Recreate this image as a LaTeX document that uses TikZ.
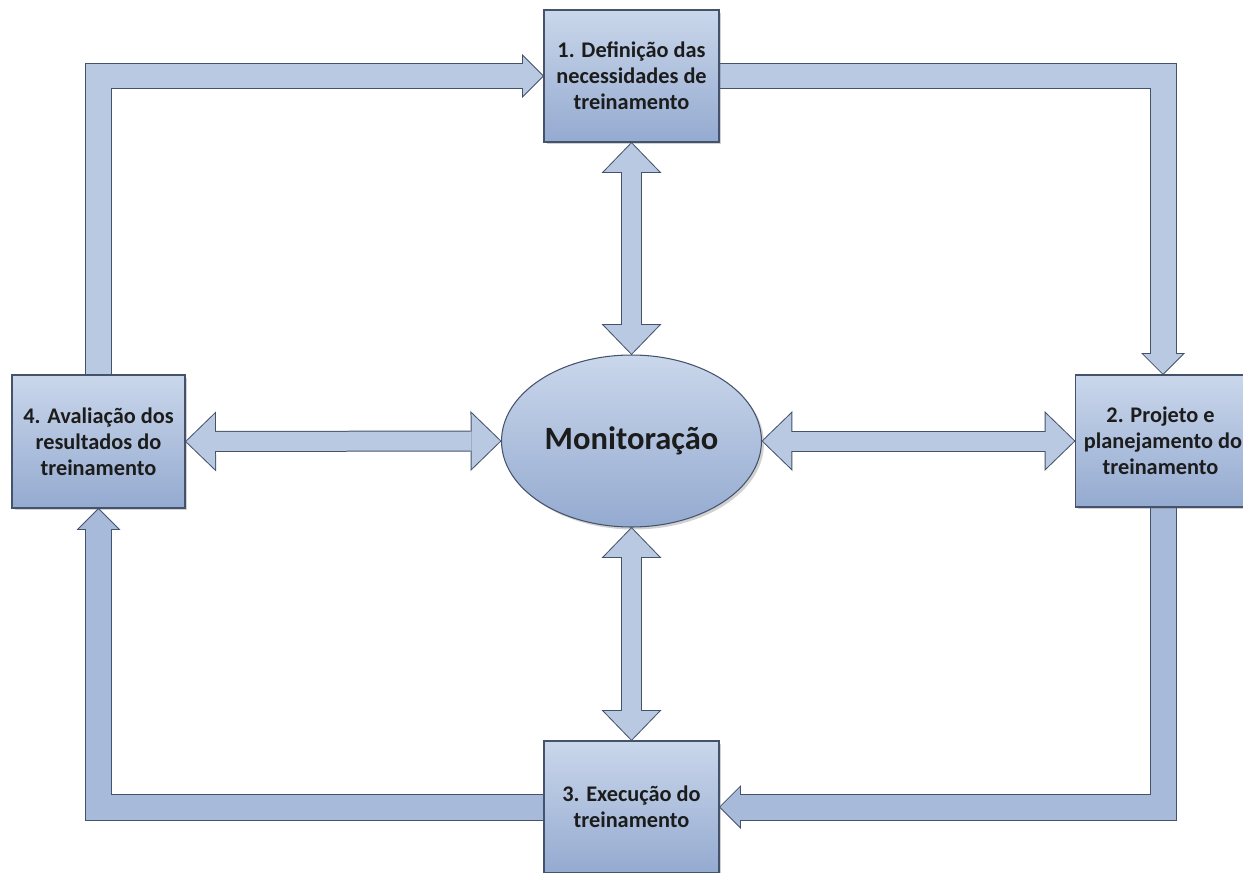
\documentclass[tikz,border=0pt]{standalone}
\usepackage{fontspec}
\setmainfont{Carlito}
\usetikzlibrary{arrows.meta,shapes.geometric,shadows}

\definecolor{boxtop}{HTML}{CAD7EB}
\definecolor{boxbot}{HTML}{94AAD0}
\definecolor{edgec}{HTML}{44536B}
\definecolor{flowc}{HTML}{B9C9E2}
\definecolor{flowd}{HTML}{A7BADA}
\definecolor{txtc}{HTML}{1C1C1C}

\pgfdeclarelayer{background}
\pgfsetlayers{background,main}

\begin{document}
\begin{tikzpicture}[x=0.02cm, y=-0.02cm,
    stage/.style={rectangle, draw=edgec, line width=0.6pt, top color=boxtop, bottom color=boxbot,
      minimum width=3.5cm, minimum height=2.64cm, inner sep=0pt, outer sep=0pt, align=center,
      text=txtc, font=\fontsize{12.7}{14.7}\selectfont\bfseries,
      drop shadow={shadow xshift=0.05cm, shadow yshift=-0.05cm, opacity=0.3, fill=black!60}},
    hub/.style={ellipse, draw=edgec, line width=0.6pt, top color=boxtop, bottom color=boxbot,
      minimum width=5.2cm, minimum height=3.44cm, inner sep=0pt, outer sep=0pt,
      text=txtc, font=\fontsize{18.5}{22}\selectfont\bfseries,
      drop shadow={shadow xshift=0.05cm, shadow yshift=-0.05cm, opacity=0.3, fill=black!60}},
    loop/.style={line width=0.54cm, draw=edgec,
      -{Triangle[length=0.44cm, width=0.88cm, line width=0pt]},
      postaction={draw=#1, line width=0.50cm, shorten >=0.028cm,
        -{Triangle[length=0.39cm, width=0.78cm, line width=0pt]}}},
    loop/.default=flowc,
    link/.style={line width=0.42cm, draw=edgec,
      {Triangle[length=0.62cm, width=1.2cm, line width=0pt]}-{Triangle[length=0.62cm, width=1.2cm, line width=0pt]},
      postaction={draw=flowc, line width=0.38cm, shorten >=0.029cm, shorten <=0.029cm,
        {Triangle[length=0.571cm, width=1.106cm, line width=0pt]}-{Triangle[length=0.571cm, width=1.106cm, line width=0pt]}}}]

  \useasboundingbox (0,0) rectangle (1243,872);
  \clip (0,0) rectangle (1243,872);

  % etapas do ciclo
  \node[stage] (def) at (631.5,76) {1. Definição das\\necessidades de\\treinamento};
  \node[stage] (plan) at (1163,441) {2. Projeto e\hspace*{0.1cm}\\planejamento do\hspace*{0.18cm}\\treinamento\hspace*{0.1cm}};
  \node[stage] (exe) at (631.5,807) {3. Execução do\\treinamento};
  \node[stage, minimum width=3.46cm, minimum height=2.66cm] (eval) at (98.5,441.5) {4. Avaliação dos\\resultados do\\treinamento};

  % centro
  \node[hub] (mon) at (631.5,441) {Monitoração};

  \begin{pgfonlayer}{background}
    % ciclo externo
    \draw[loop] (eval.north) |- (def.west);
    \draw[loop] (def.east) -| (plan.north);
    \draw[loop=flowd] (plan.south) |- (exe.east);
    \draw[loop=flowd] (exe.west) -| (eval.south);

    % ligacoes com a monitoracao
    \draw[link] (def.south) -- (mon.north);
    \draw[link] (mon.south) -- (exe.north);
    \draw[link] (eval.east) -- (mon.west);
    \draw[link] (mon.east) -- (plan.west);
  \end{pgfonlayer}
\end{tikzpicture}
\end{document}
